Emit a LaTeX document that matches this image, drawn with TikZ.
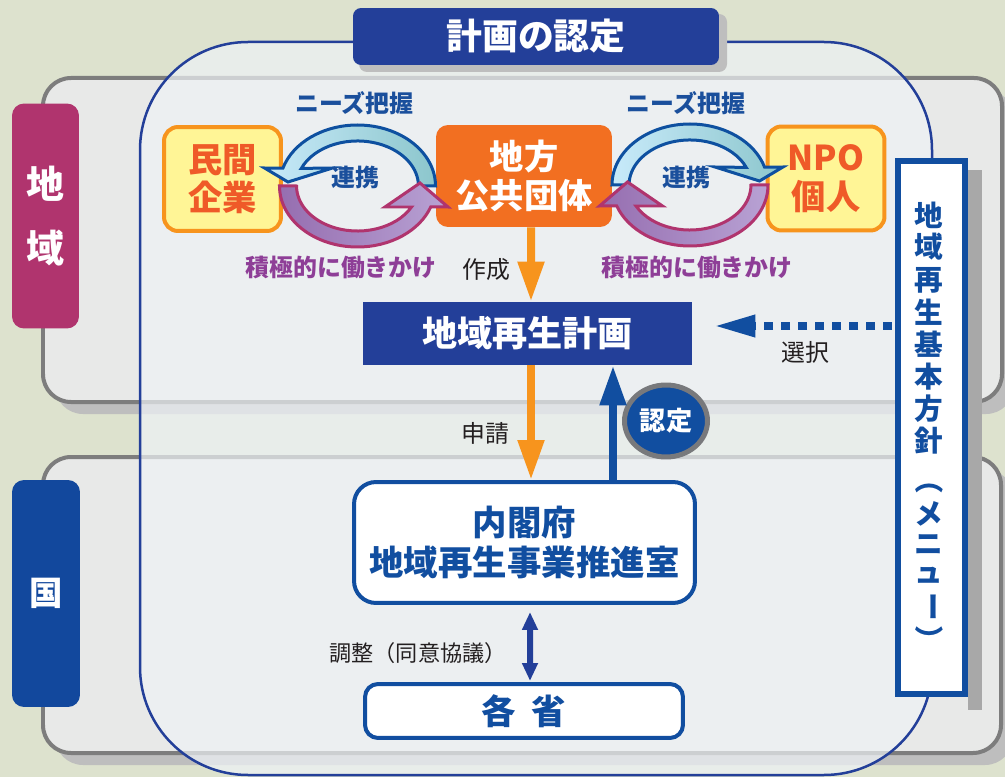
\documentclass[tikz,border=0pt]{standalone}
\usepackage{fontspec}
\setmainfont{Noto Sans CJK JP}
\usepackage{tikz}
\usepackage{xcolor}
\usetikzlibrary{arrows.meta,shapes.geometric,calc}

\definecolor{bgGreen}{RGB}{221,226,206}
\definecolor{bandGrey}{RGB}{125,125,125}
\definecolor{bandFill}{RGB}{232,233,232}
\definecolor{shadowGrey}{RGB}{190,190,190}
\definecolor{darkShadow}{RGB}{168,168,168}
\definecolor{areaBlue}{RGB}{35,63,153}
\definecolor{areaFill}{RGB}{238,242,246}
\definecolor{chiikiRed}{RGB}{176,52,110}
\definecolor{kuniBlue}{RGB}{18,72,157}
\definecolor{boxBlue}{RGB}{17,78,160}
\definecolor{orgOrange}{RGB}{242,111,33}
\definecolor{arrowOrange}{RGB}{247,148,29}
\definecolor{memoYellow}{RGB}{255,245,150}
\definecolor{textRed}{RGB}{239,90,40}
\definecolor{loopBlue}{RGB}{14,80,160}
\definecolor{loopCyan}{RGB}{200,234,250}
\definecolor{loopTeal}{RGB}{140,198,204}
\definecolor{loopRed}{RGB}{176,52,110}
\definecolor{loopPurple}{RGB}{150,110,176}
\definecolor{loopLilac}{RGB}{184,162,212}
\definecolor{labelPurple}{RGB}{142,62,151}
\definecolor{labelBlue}{RGB}{26,79,156}
\definecolor{ninteiGrey}{RGB}{120,121,124}
\definecolor{labelBlack}{RGB}{35,31,32}

\tikzstyle{band}=[draw=bandGrey, line width=0.08cm, fill=bandFill, rounded corners=0.56cm]
\tikzstyle{bandshadow}=[fill=shadowGrey, rounded corners=0.56cm]
\tikzstyle{tag}=[rounded corners=0.24cm, text=white, inner sep=0pt, align=center]
\tikzstyle{actor}=[draw=arrowOrange, fill=memoYellow, line width=0.08cm, rounded corners=0.28cm, text=textRed, align=center, font=\fontsize{19.5}{22}\selectfont\bfseries, minimum width=2.34cm, minimum height=2.08cm, inner sep=0pt]
\tikzstyle{office}=[draw=boxBlue, fill=white, line width=0.08cm, text=boxBlue, align=center, font=\fontsize{19.6}{22.5}\selectfont\bfseries, inner sep=0pt]
\tikzstyle{note}=[font=\fontsize{13.6}{16}\selectfont, text=labelBlack, inner sep=0pt]
\tikzstyle{loopnote}=[font=\fontsize{13.6}{16}\selectfont\bfseries, inner sep=0pt]
\tikzstyle{vchar}=[font=\fontsize{16.3}{17}\selectfont\bfseries, text=boxBlue, inner sep=0pt]
\tikzstyle{flow}=[line width=0.16cm, -{Triangle[length=0.8cm,width=0.5cm]}]

\tikzset{
  pics/needloop/.style 2 args={code={
    \draw[draw=loopBlue, line width=0.06cm, #1]
      (78,0) arc[start angle=0, end angle=163, x radius=78, y radius=61]
      -- (-93,18) -- (-69.5,4) -- (-25,18) -- (-56.2,17.6)
      arc[start angle=157, end angle=0, x radius=61, y radius=45] -- cycle;
    \draw[draw=loopRed, line width=0.06cm, #2]
      (-61,0) -- (-78,0) arc[start angle=180, end angle=340, x radius=78, y radius=61]
      -- (90.5,-21) -- (62.5,3) -- (27.5,-21) -- (54,-21)
      arc[start angle=332.2, end angle=180, x radius=61, y radius=45] -- cycle;
  }}
}

\begin{document}
\begin{tikzpicture}[x=0.02cm, y=-0.02cm]
  \useasboundingbox (0,0) rectangle (1005,777);
  \clip (0,0) rectangle (1005,777);
  \fill[bgGreen] (0,0) rectangle (1005,777);

  % bands
  \fill[bandshadow] (55,90) rectangle (1014,414);
  \fill[bandshadow] (55,469) rectangle (1013,765);
  \draw[band] (43,78) rectangle (1002,402);
  \draw[band] (43,457) rectangle (1001,753);

  % area of the plan approval
  \fill[areaFill, opacity=0.7, rounded corners=2.16cm] (140,42) rectangle (932,775);
  \draw[areaBlue, line width=0.05cm, rounded corners=2.16cm] (140,42) rectangle (932,775);

  \fill[shadowGrey, rounded corners=0.16cm] (359,14) rectangle (727,72);
  \node[fill=areaBlue, rounded corners=0.16cm, minimum width=7.32cm, minimum height=1.14cm, inner sep=0pt, text=white, font=\fontsize{20.4}{22}\selectfont\bfseries] (title) at (536,36.5) {計画の認定};

  \node[tag, fill=chiikiRed, minimum width=1.34cm, minimum height=4.5cm, font=\fontsize{21.6}{36}\selectfont\bfseries] (chiiki) at (45.5,216) {地\\域};
  \node[tag, fill=kuniBlue, minimum width=1.36cm, minimum height=4.54cm, font=\fontsize{19}{22}\selectfont\bfseries] (kuni) at (46,593.5) {国};

  % basic policy
  \fill[darkShadow] (968,170) rectangle (982,710);
  \node[draw=boxBlue, fill=white, line width=0.12cm, minimum width=1.34cm, minimum height=10.66cm, inner sep=0pt] (kihonBox) at (931.5,427.5) {};
  \foreach \ch/\yy [count=\i] in {地/215, 域/247, 再/280, 生/312, 基/344, 本/377, 方/409, 針/441, {\rotatebox{-90}{（}}/480, メ/514, ニ/545, ュ/575, {\rotatebox{-90}{ー}}/607, {\rotatebox{-90}{）}}/640}
    \node[vchar] (kihon\i) at (929,\yy) {\ch};

  % actors
  \node[actor] (minkan) at (222.5,179) {民間\\企業};
  \node[fill=orgOrange, rounded corners=0.24cm, minimum width=3.52cm, minimum height=2.04cm, inner sep=0pt, text=white, align=center, font=\fontsize{19.5}{22}\selectfont\bfseries] (chiho) at (524,176) {地方\\公共団体};
  \node[actor] (npo) at (826,178.5) {NPO\\個人};

  \pic[yscale=-1] at (357.5,186) {needloop={left color=loopCyan, right color=loopTeal}{left color=loopPurple, right color=loopLilac}};
  \pic[xscale=-1, yscale=-1] at (690,185) {needloop={left color=loopCyan, right color=loopTeal}{left color=loopPurple, right color=loopLilac}};

  \node[loopnote, text=labelBlue] (needsL) at (354.5,103) {ニーズ把握};
  \node[loopnote, text=labelBlue] (needsR) at (686,103) {ニーズ把握};
  \node[loopnote, text=labelBlue] (renkeiL) at (355,177) {連携};
  \node[loopnote, text=labelBlue] (renkeiR) at (686,177) {連携};
  \node[loopnote, text=labelPurple] (hatarakiL) at (341,267) {積極的に働きかけ};
  \node[loopnote, text=labelPurple] (hatarakiR) at (697,267) {積極的に働きかけ};

  % plan and offices
  \node[fill=areaBlue, minimum width=6.58cm, minimum height=1.26cm, inner sep=0pt, text=white, font=\fontsize{20}{22}\selectfont\bfseries] (keikaku) at (527.5,333.5) {地域再生計画};
  \node[office, rounded corners=0.44cm, minimum width=6.82cm, minimum height=2.42cm] (naikaku) at (524.5,542.5) {内閣府\\地域再生事業推進室};
  \node[office, rounded corners=0.26cm, minimum width=6.36cm, minimum height=1.08cm] (kakusho) at (524,711) {各\hspace{0.45em}省};
  \node[ellipse, draw=ninteiGrey, fill=boxBlue, line width=0.1cm, minimum width=1.66cm, minimum height=1.44cm, inner sep=0pt, text=white, font=\fontsize{14.9}{16}\selectfont\bfseries] (nintei) at (666,421) {認定};

  \draw[flow, draw=arrowOrange] ($(chiho.south)+(7,0)$) -- ($(keikaku.north)+(3.5,0)$);
  \draw[flow, draw=arrowOrange] ($(keikaku.south)+(3.5,0)$) -- ($(naikaku.north)+(6.5,0)$);
  \draw[flow, draw=boxBlue] ($(naikaku.north)+(88.5,0)$) -- ($(keikaku.south)+(85.5,0)$);
  \draw[areaBlue, line width=0.12cm, {Triangle[length=0.36cm,width=0.3cm]}-{Triangle[length=0.36cm,width=0.3cm]}] ($(naikaku.south)+(5.5,7)$) -- ($(kakusho.north)+(6,-1)$);
  \draw[boxBlue, line width=0.18cm, dash pattern=on 0.18cm off 0.16cm, -{Triangle[length=0.86cm,width=0.4cm]}] ($(kihonBox.west)+(-3,-101.5)$) -- ($(keikaku.east)+(20,-7.5)$);

  \node[note] (sakusei) at (486,270) {作成};
  \node[note] (shinsei) at (485,433) {申請};
  \node[note] (sentaku) at (805,352) {選択};
  \node[note, font=\fontsize{12.6}{14}\selectfont] (chousei) at (418,653) {調整（同意協議）};
\end{tikzpicture}
\end{document}
